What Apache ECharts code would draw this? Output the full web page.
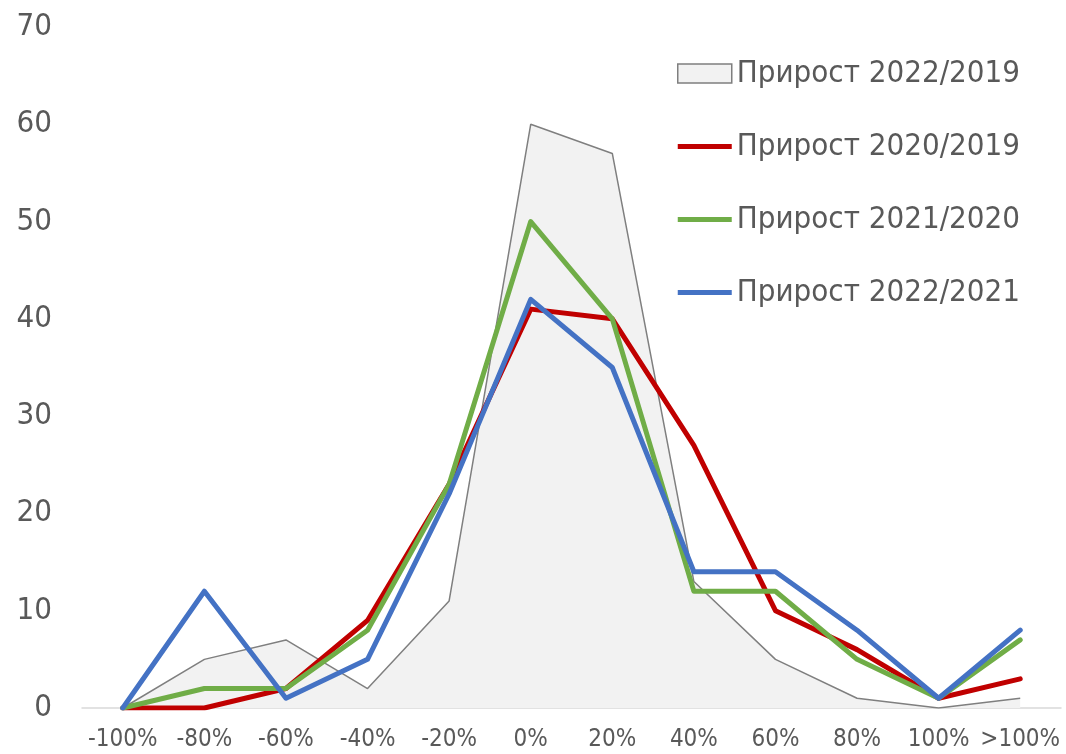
<!DOCTYPE html>
<html>
<head>
<meta charset="utf-8">
<script src="https://cdn.jsdelivr.net/npm/echarts@6/dist/echarts.min.js"></script>
<style>
html,body{margin:0;padding:0;background:#fff;}
#c{width:1066px;height:754px;}
</style>
</head>
<body>
<div id="c"></div>
<script>
const categories = ['-100%','-80%','-60%','-40%','-20%','0%','20%','40%','60%','80%','100%','>100%'];
const yTicks = { min: 0, max: 70, interval: 10 };
const names = ['Прирост 2022/2019','Прирост 2020/2019','Прирост 2021/2020','Прирост 2022/2021'];
const g2022_2019 = [0, 5, 7, 2, 11, 60, 57, 13, 5, 1, 0, 1];
const g2020_2019 = [0, 0, 2, 9, 23, 41, 40, 27, 10, 6, 1, 3];
const g2021_2020 = [0, 2, 2, 8, 23, 50, 40, 12, 12, 5, 1, 7];
const g2022_2021 = [0, 12, 1, 5, 22, 42, 35, 14, 14, 8, 1, 8];

const FONT = "'DejaVu Sans Condensed', 'DejaVu Sans', sans-serif";
const TXT = '#595959';
const lineIcon = 'path://M0,0 L54,0 L54,5 L0,5 Z';

function lineSeries(name, data, color) {
  return {
    name: name, type: 'line', data: data, symbol: 'none', smooth: false,
    lineStyle: { color: color, width: 5, cap: 'round', join: 'round' },
    itemStyle: { color: color },
    emphasis: { disabled: true }, animation: false
  };
}

const chart = echarts.init(document.getElementById('c'), null, { renderer: 'canvas' });
chart.setOption({
  animation: false,
  backgroundColor: '#ffffff',
  textStyle: { fontFamily: FONT },
  grid: { left: 82, right: 5, top: 27, bottom: 46, containLabel: false },
  legend: {
    orient: 'vertical', left: 677, top: 58, padding: 0,
    itemWidth: 54, itemHeight: 19, itemGap: 42,
    textStyle: { fontFamily: FONT, fontSize: 31, color: TXT, lineHeight: 30 },
    symbolKeepAspect: true,
    data: [
      { name: names[0], icon: 'rect', itemStyle: { color: '#f2f2f2', borderColor: '#7f7f7f', borderWidth: 1.5 } },
      { name: names[1], icon: lineIcon, itemStyle: { color: '#c00000', borderWidth: 0 } },
      { name: names[2], icon: lineIcon, itemStyle: { color: '#70ad47', borderWidth: 0 } },
      { name: names[3], icon: lineIcon, itemStyle: { color: '#4472c4', borderWidth: 0 } }
    ]
  },
  xAxis: {
    type: 'category', data: categories, boundaryGap: true,
    axisLine: { show: true, lineStyle: { color: '#d9d9d9', width: 1.5 } },
    axisTick: { show: false },
    axisLabel: { fontFamily: FONT, fontSize: 24, color: TXT, margin: 20, interval: 0 },
    splitLine: { show: false }
  },
  yAxis: {
    type: 'value', min: yTicks.min, max: yTicks.max, interval: yTicks.interval,
    axisLine: { show: false }, axisTick: { show: false },
    axisLabel: { fontFamily: FONT, fontSize: 31, color: TXT, margin: 30 },
    splitLine: { show: false }
  },
  series: [
    {
      name: names[0], type: 'line', data: g2022_2019, symbol: 'none',
      lineStyle: { color: '#7f7f7f', width: 1.5 },
      itemStyle: { color: '#f2f2f2' },
      areaStyle: { color: '#f2f2f2', opacity: 1 },
      emphasis: { disabled: true }, animation: false
    },
    lineSeries(names[1], g2020_2019, '#c00000'),
    lineSeries(names[2], g2021_2020, '#70ad47'),
    lineSeries(names[3], g2022_2021, '#4472c4')
  ]
});
</script>
</body>
</html>
